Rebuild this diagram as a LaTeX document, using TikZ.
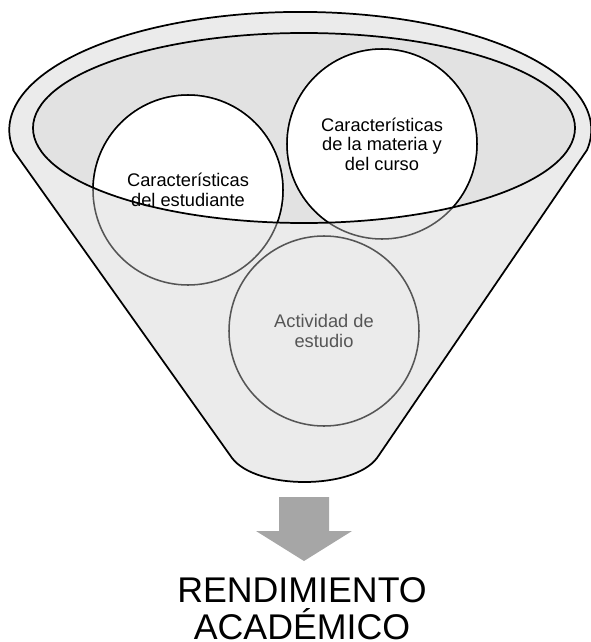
\documentclass[tikz,border=0pt]{standalone}
\usepackage{fontspec}
\setmainfont{Liberation Sans}
\usepackage{tikz}
\usetikzlibrary{positioning, calc}

\definecolor{funnelgray}{RGB}{235,235,235}
\definecolor{innergray}{RGB}{226,226,226}
\definecolor{ringgray}{RGB}{85,85,85}
\definecolor{arrowgray}{RGB}{166,166,166}

\begin{document}
\begin{tikzpicture}[x=0.75pt,y=-0.75pt]
    \edef\radcirc{71.25pt}
    \tikzstyle{funnel}=[draw=black,fill=funnelgray,line width=1.3pt,line join=round]
    \tikzstyle{rimline}=[draw=black,line width=1.3pt]
    \tikzstyle{backring}=[draw=ringgray,line width=1.15pt]
    \tikzstyle{frontring}=[draw=black,fill=white,line width=1.15pt]
    \tikzstyle{circtext}=[align=center,inner sep=0pt,font=\fontsize{13.7}{14.6}\selectfont]
    \tikzstyle{result}=[align=center,inner sep=0pt,font=\fontsize{26.8}{27.6}\selectfont]

    \useasboundingbox (0,0) rectangle (591,642);

    \coordinate (rim) at (304,128);
    \coordinate (ce) at (188,190);
    \coordinate (cm) at (382,144);
    \coordinate (ca) at (324,331);

    % funnel body
    \draw[funnel] (13,150) -- (232,458) .. controls (256,490) and (353,490) .. (377,458)
        -- (587,150) arc[start angle=-9.8, end angle=189.8, x radius=218.25pt, y radius=88.5pt] -- cycle;

    % rim of the funnel
    \fill[innergray] (rim) ellipse[x radius=203.25pt, y radius=71.25pt];

    % circles, the part seen through the funnel
    \foreach \c in {ce,cm,ca}
        \draw[backring] (\c) circle[radius=\radcirc];

    % the part inside the rim
    \begin{scope}
        \clip (rim) ellipse[x radius=203.25pt, y radius=71.25pt];
        \foreach \c in {ce,cm}
            \path[frontring] (\c) circle[radius=\radcirc];
    \end{scope}
    \draw[rimline] (rim) ellipse[x radius=203.25pt, y radius=71.25pt];

    % labels
    \node[circtext] (est) at (ce) {Características\\del estudiante};
    \node[circtext] (mat) at (cm) {Características\\de la materia y\\del curso};
    \node[circtext,text=ringgray] (act) at (ca) {Actividad de\\estudio};

    % arrow and result
    \fill[arrowgray] (279,497) -- (329,497) -- (329,531) -- (352,531) -- (304,561)
        -- (256,531) -- (279,531) -- cycle;
    \node[result,anchor=north] (rend) at (302,577) {RENDIMIENTO\\ACADÉMICO};
\end{tikzpicture}
\end{document}
